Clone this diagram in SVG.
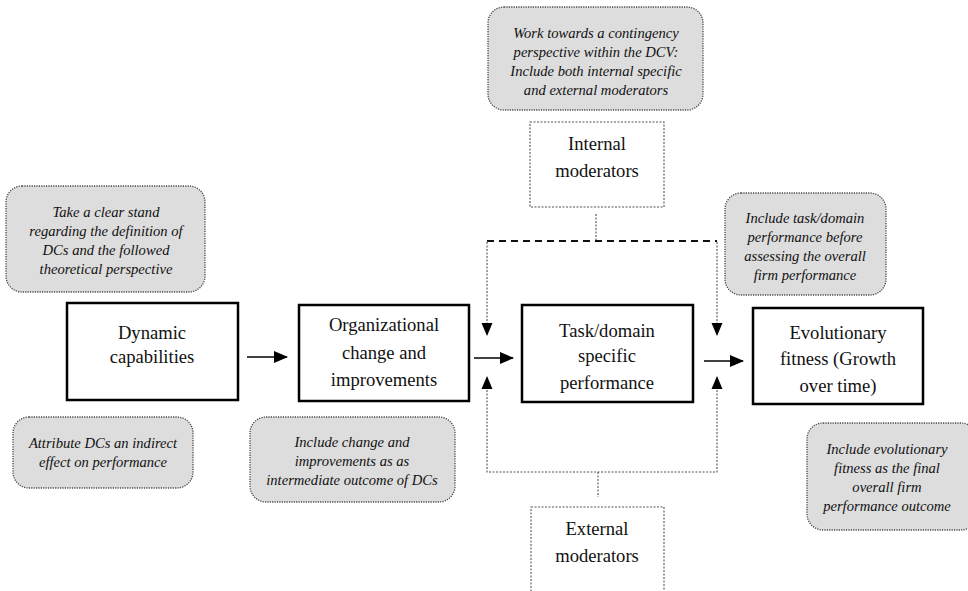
<svg xmlns="http://www.w3.org/2000/svg" width="968" height="591" viewBox="0 0 968 591">
<defs>
<style>
.note{fill:#dddddd;stroke:#444;stroke-width:1.3;stroke-dasharray:1.2 1.2}
.nt{font-family:"Liberation Serif","Times New Roman",serif;font-style:italic;font-size:14.6px;fill:#111;text-anchor:middle}
.box{fill:#fff;stroke:#000;stroke-width:2.5}
.bt{font-family:"Liberation Serif","Times New Roman",serif;font-size:18.6px;fill:#111;text-anchor:middle}
.mod{fill:#fff;stroke:#555;stroke-width:1.1;stroke-dasharray:2 1.5}
.dot{fill:none;stroke:#555;stroke-width:1.1;stroke-dasharray:2 1.5}
.dash{fill:none;stroke:#111;stroke-width:2;stroke-dasharray:7 5}
.arr{fill:none;stroke:#000;stroke-width:1.6}
</style>
<marker id="ah" markerWidth="14" markerHeight="12" refX="13" refY="6" orient="auto" markerUnits="userSpaceOnUse">
<path d="M0,0 L14,6 L0,12 Z" fill="#000"/>
</marker>
</defs>
<rect width="968" height="591" fill="#fff"/>

<g id="note-contingency">
<rect class="note" x="488" y="7" width="215" height="103" rx="16"/>
<text class="nt" x="596" y="38">Work towards a contingency</text>
<text class="nt" x="596" y="57">perspective within the DCV:</text>
<text class="nt" x="596" y="76">Include both internal specific</text>
<text class="nt" x="596" y="95">and external moderators</text>
</g>

<g id="internal-moderators">
<rect class="mod" x="530" y="122" width="134" height="85"/>
<text class="bt" x="597" y="150">Internal</text>
<text class="bt" x="597" y="177">moderators</text>
</g>

<g id="note-definition">
<rect class="note" x="6" y="186" width="199" height="106" rx="16"/>
<text class="nt" x="106" y="217">Take a clear stand</text>
<text class="nt" x="106" y="236">regarding the definition of</text>
<text class="nt" x="106" y="255">DCs and the followed</text>
<text class="nt" x="106" y="274">theoretical perspective</text>
</g>

<g id="note-task">
<rect class="note" x="725" y="193" width="161" height="102" rx="16"/>
<text class="nt" x="805" y="223">Include task/domain</text>
<text class="nt" x="805" y="242">performance before</text>
<text class="nt" x="805" y="261">assessing the overall</text>
<text class="nt" x="805" y="280">firm performance</text>
</g>

<g id="dynamic-capabilities">
<rect class="box" x="67" y="303" width="171" height="97"/>
<text class="bt" x="152" y="339">Dynamic</text>
<text class="bt" x="152" y="363">capabilities</text>
</g>

<g id="organizational-change">
<rect class="box" x="299" y="305" width="170" height="96"/>
<text class="bt" x="384" y="331">Organizational</text>
<text class="bt" x="384" y="359">change and</text>
<text class="bt" x="384" y="386">improvements</text>
</g>

<g id="task-performance">
<rect class="box" x="522" y="305" width="171" height="97"/>
<text class="bt" x="607" y="337">Task/domain</text>
<text class="bt" x="607" y="362">specific</text>
<text class="bt" x="607" y="389">performance</text>
</g>

<g id="evolutionary-fitness">
<rect class="box" x="753" y="308" width="170" height="96"/>
<text class="bt" x="838" y="339">Evolutionary</text>
<text class="bt" x="838" y="365">fitness (Growth</text>
<text class="bt" x="838" y="392">over time)</text>
</g>

<g id="note-indirect">
<rect class="note" x="13" y="417" width="180" height="71" rx="16"/>
<text class="nt" x="103" y="448">Attribute DCs an indirect</text>
<text class="nt" x="103" y="467">effect on performance</text>
</g>

<g id="note-change">
<rect class="note" x="250" y="417" width="205" height="85" rx="16"/>
<text class="nt" x="352" y="447">Include change and</text>
<text class="nt" x="352" y="466">improvements as as</text>
<text class="nt" x="352" y="485">intermediate outcome of DCs</text>
</g>

<g id="note-evolutionary">
<rect class="note" x="807" y="423" width="170" height="107" rx="16"/>
<text class="nt" x="887" y="454">Include evolutionary</text>
<text class="nt" x="887" y="473">fitness as the final</text>
<text class="nt" x="887" y="492">overall firm</text>
<text class="nt" x="887" y="511">performance outcome</text>
</g>

<g id="external-moderators">
<rect class="mod" x="531" y="507" width="133" height="100"/>
<text class="bt" x="597" y="535">External</text>
<text class="bt" x="597" y="562">moderators</text>
</g>

<g id="connectors">
<line class="arr" x1="247" y1="357" x2="287" y2="357" marker-end="url(#ah)"/>
<line class="arr" x1="474" y1="358" x2="513" y2="358" marker-end="url(#ah)"/>
<line class="arr" x1="704" y1="361" x2="743" y2="361" marker-end="url(#ah)"/>
<line class="dot" x1="596" y1="214" x2="596" y2="241"/>
<path class="dash" d="M487,241 L717,241"/>
<line class="dot" x1="487" y1="242" x2="487" y2="323"/>
<line class="dot" x1="717" y1="242" x2="717" y2="323"/>
<path d="M481.5,323 L492.5,323 L487,336 Z" fill="#000"/>
<path d="M711.5,323 L722.5,323 L717,336 Z" fill="#000"/>
<path class="dot" d="M487,390 L487,472 L717,472 L717,390"/>
<line class="dot" x1="598" y1="472" x2="598" y2="497"/>
<path d="M481.5,389 L492.5,389 L487,376 Z" fill="#000"/>
<path d="M711.5,389 L722.5,389 L717,376 Z" fill="#000"/>
</g>
</svg>
